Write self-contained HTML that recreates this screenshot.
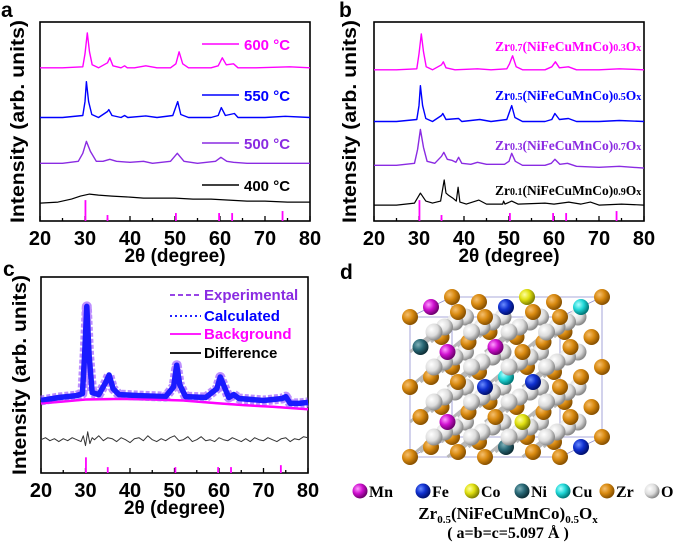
<!DOCTYPE html>
<html><head><meta charset="utf-8"><style>
body{margin:0;background:#fff}
svg{display:block;font-family:"Liberation Sans",Arial,sans-serif}
.tl{font-size:20px;font-weight:bold}
.ti{font-size:19px;font-weight:bold}
.lg{font-size:15px;font-weight:bold}
.sf{font-family:"Liberation Serif",serif;font-weight:bold}
</style></head><body>
<svg id="fig" width="675" height="546" viewBox="0 0 675 546" xmlns="http://www.w3.org/2000/svg">
<defs>
<radialGradient id="gZr" cx="35%" cy="35%" r="65%"><stop offset="0" stop-color="#f5c070"/><stop offset=".5" stop-color="#d98a10"/><stop offset="1" stop-color="#8a5200"/></radialGradient>
<radialGradient id="gO" cx="35%" cy="35%" r="65%"><stop offset="0" stop-color="#ffffff"/><stop offset=".6" stop-color="#dcdcdc"/><stop offset="1" stop-color="#8a8a8a"/></radialGradient>
<radialGradient id="gMn" cx="35%" cy="35%" r="65%"><stop offset="0" stop-color="#ff9cff"/><stop offset=".5" stop-color="#d010d0"/><stop offset="1" stop-color="#700070"/></radialGradient>
<radialGradient id="gFe" cx="35%" cy="35%" r="65%"><stop offset="0" stop-color="#6a8cff"/><stop offset=".5" stop-color="#1030d0"/><stop offset="1" stop-color="#001070"/></radialGradient>
<radialGradient id="gCo" cx="35%" cy="35%" r="65%"><stop offset="0" stop-color="#ffffa0"/><stop offset=".5" stop-color="#e0e010"/><stop offset="1" stop-color="#808000"/></radialGradient>
<radialGradient id="gNi" cx="35%" cy="35%" r="65%"><stop offset="0" stop-color="#7fb0b8"/><stop offset=".5" stop-color="#2a6a78"/><stop offset="1" stop-color="#0e3038"/></radialGradient>
<radialGradient id="gCu" cx="35%" cy="35%" r="65%"><stop offset="0" stop-color="#b0ffff"/><stop offset=".5" stop-color="#20d8d8"/><stop offset="1" stop-color="#007878"/></radialGradient>
</defs>
<g id="root"></g>
</svg>
<script>
// ---------- DATA ----------
const xTicks = [20,30,40,50,60,70,80];
const refPos = [30.1,35,50.2,59.8,62.7,73.9];
const refHa = [10.5,3,4,4,4,5];
const refHc = [8,3,3,3,3,4];

const a600x=[20,25,29.5,30,30.5,31,31.6,33,35,35.5,36.2,38,38.8,39.4,41,43.5,46,49,50.2,50.9,51.7,53,58,59.6,60.5,61.4,63,64,68,75.5,80];
const a600y=[77,77,77.5,84,94.5,85,78.5,77,79.5,82,78,77,78,77,77,78,77,77,79,85,79,77,77,78,82,78.5,79,77,77,77.5,77];
const a550x=[20,25,29.5,30,30.3,30.8,31.5,33,35,35.3,36,38,38.8,39.5,43.5,46,49.5,50.6,51.3,53,58,59.6,60.3,61.2,63.2,64,70,74.5,80];
const a550y=[52,52,53,60,70,60,53.5,52,55,56,53,52,53,52,52.8,52,53,60,53.5,52,52,53,57,53,54,52,52,52.6,52];
const a500x=[20,25,28.5,29.5,30.3,31.2,32.5,34,35.5,37,40,43,45,49,50.5,52,55,59,60.2,61.5,63,66,70,75,80];
const a500y=[29,29,30,34,40,35,30,30,31,30,29.5,30,29,30,34,30,29,30,32,30,29.5,29,29,29,29];
const a400x=[20,24,27,29,31,33,36,40,43,47,50,54,58,62,66,70,75,80];
const a400y=[9,9.5,11,12.5,13.5,13,12.5,12,11.5,11.5,11.5,11,11,10.5,10,10,9.5,9.5];

const b07x=[20,25,29.5,30,30.5,31,31.6,33,35,35.4,36,38,43,46,49.5,50.1,50.8,51.6,53,58,59.5,60.3,61.2,63.2,65,70,74.5,80];
const b07y=[76,76,76.5,84,94,85,77.5,76,78.5,80,77,76,76.5,76,76.5,79,83,77.5,76,76,77.5,80,77,77.5,76,76,76.5,76];
const b05x=[20,25,29.5,30,30.3,30.8,31.5,33,35,35.3,36,38.8,39.5,43.5,46,49.5,50.6,51.3,53,58,59.5,60.2,61.2,63.2,65,70,74.5,80];
const b05y=[50,50,51,58,68,58,51.5,50,53,54,51,51.5,50,51,50,51,58,52,50,50,51,54,51,51.5,50,50,50.5,50];
const b03x=[20,25,29,29.7,30.3,31,31.8,33.5,35,35.5,36.3,37.3,38.2,38.8,39.5,41.5,43,45,49,50,50.6,51.4,53,58,59.4,60.2,61.3,63,65,70,74.5,80];
const b03y=[28,28,29,36,46,37,30,29,32.5,34.5,31,30.5,29.5,32,29,28.5,29.5,28.5,28.5,30,34,30,28,28,29,31,28.5,29,27.5,27,27.5,26.6];
const b01x=[20,25,29,30.3,31.5,33,34.8,35.6,36,36.5,37.5,38.3,38.7,39.1,40.5,43.3,45,48.6,48.8,49.1,50.6,52,58,60,63.3,66,68.1,70,75,80];
const b01y=[8,8,9,14,10,9,10,20.6,14,13,11.5,10,17,9.5,8.5,10.5,8.5,8.5,10,8.5,10,8.5,9,8.5,9.5,8.5,9.5,8,8.5,8];

const cCalcx=[20,24,28,29.3,29.8,30.3,30.8,31.5,33,34.5,35.3,36.2,37.5,42,48,49.8,50.5,51.2,52.5,57,59.5,60.3,61.2,62.2,63.3,64.5,70,74.2,75,76,78,80];
const cCalcy=[37,38.5,39.5,40.5,60,85,60,41,40,46,50,43,40,39.5,39,44,55,45,39,38.5,43,49,44,38.5,40,38,37,38,39,35.5,35.5,36];
const cBgx=[20,25,30,38,45,52,60,66,72,80];
const cBgy=[35.5,36.5,37.5,37.8,37.5,37,35.5,34.6,33.8,32.5];
const cDifx=[20,21,22,23,24,25,26,27,28,29,29.5,30,30.5,31,31.5,32,33,34,35,36,37,38,39,40,41,42,43,44,45,46,47,48,49,50,51,52,53,54,55,56,57,58,59,60,61,62,63,64,65,66,67,68,69,70,71,72,73,74,75,76,77,78,79,80];
const cDify=[17,18,16.5,17.5,16,17.5,16.5,18,17,16,19,14,21,15,18,17,19,16.5,18,17.5,16,18,17,15.5,17.5,18,16.5,19,17,16,17.5,16.5,18,19,16.5,17,18.5,16,17,18.5,16.5,17,16,18,17,16.5,18,17,16,17.5,16,18,17,16.5,18,17,16,17.5,18,16,17.5,17,18.5,18];

const aLegend=["600 °C","550 °C","500 °C","400 °C"];
const cLegend=["Experimental","Calculated","Background","Difference"];
const dLegend=["Mn","Fe","Co","Ni","Cu","Zr","O"];

// ---------- DRAWING ----------
const NS="http://www.w3.org/2000/svg";
const root=document.getElementById('root');
function el(tag,attrs,parent,text){const e=document.createElementNS(NS,tag);for(const k in attrs)e.setAttribute(k,attrs[k]);if(text!==undefined)e.textContent=text;(parent||root).appendChild(e);return e;}

function panel(id,L,R,T,B,titleX,refH){
  const g=el('g',{});
  
  
  const sx=v=>L+(v-20)/60*(R-L);
  const sy=v=>B-v/100*(B-T);
  const frame=el('rect',{x:L,y:T,width:R-L,height:B-T,fill:'none',stroke:'#000','stroke-width':1.6},g);
  
  
  for(let v=20;v<=80;v+=5){
    const major=v%10===0;
    const t=el('line',{x1:sx(v),x2:sx(v),y1:B,y2:B-(major?5:3),stroke:'#000','stroke-width':1.3},g);
    
    
  }
  xTicks.forEach(v=>{
    const t=el('text',{x:sx(v),y:B+24,'text-anchor':'middle',class:'tl'},g,String(v));
    
    
  });
  const xt=el('text',{x:(L+R)/2,y:B+41,'text-anchor':'middle',class:'ti'},g,'2θ (degree)');
  
  
  const yt=el('text',{x:0,y:0,'text-anchor':'middle',class:'ti',transform:`translate(${titleX},${(T+B)/2}) rotate(-90)`,textLength:B-T+4,lengthAdjust:'spacingAndGlyphs'},g,'Intensity (arb. units)');
  
  
  refPos.forEach((p,i)=>{
    const r=el('line',{x1:sx(p),x2:sx(p),y1:B,y2:sy(refH[i]),stroke:'#ff00ff','stroke-width':1.8},g);
    
    
  });
  return {g,sx,sy};
}
function curve(P,xs,ys,color,w,name,extra){
  const d=xs.map((x,i)=>(i?'L':'M')+P.sx(x).toFixed(1)+','+P.sy(ys[i]).toFixed(1)).join('');
  const a={d:d,fill:'none',stroke:color,'stroke-width':w,'stroke-linejoin':'round'};
  if(extra)Object.assign(a,extra);
  const p=el('path',a,P.g);
  
  
  return p;
}

// Panel a
const A=panel('a',40,310,22,221,24,refHa);
curve(A,a600x,a600y,'#ff00ff',1.4,'series-600c');
curve(A,a550x,a550y,'#0000ff',1.4,'series-550c');
curve(A,a500x,a500y,'#8a2be2',1.4,'series-500c');
curve(A,a400x,a400y,'#000',1.2,'series-400c');
const aCols=['#ff00ff','#0000ff','#8a2be2','#000'];const aY=[44,95,143,185];
aLegend.forEach((t,i)=>{
  const l=el('line',{x1:202,x2:239,y1:aY[i],y2:aY[i],stroke:aCols[i],'stroke-width':1.6},A.g);
  
  
  const tx=el('text',{x:244,y:aY[i]+6,class:'lg',fill:aCols[i]},A.g,t);
  
  
});

// Panel b
const Bp=panel('b',374,644,22,221,356,refHa);
curve(Bp,b07x,b07y,'#ff00ff',1.4,'series-zr07');
curve(Bp,b05x,b05y,'#0000ff',1.4,'series-zr05');
curve(Bp,b03x,b03y,'#8a2be2',1.4,'series-zr03');
curve(Bp,b01x,b01y,'#000',1.2,'series-zr01');
const bLab=[['0.7','0.3'],['0.5','0.5'],['0.3','0.7'],['0.1','0.9']];const bY=[51,100,150,195];
bLab.forEach((s,i)=>{
  const t=el('text',{x:495,y:bY[i],class:'sf','font-size':'13.5px',fill:aCols[i]},Bp.g);
  
  
  t.innerHTML=`Zr<tspan font-size="10">${s[0]}</tspan>(NiFeCuMnCo)<tspan font-size="10">${s[1]}</tspan>O<tspan font-size="10">x</tspan>`;
});

// Panel c
const C=panel('c',41,308,277,473,26,refHc);
curve(C,cBgx,cBgy,'#ff00ff',2.5,'background-curve');
curve(C,cCalcx,cCalcy,'#a060ff',10,'experimental-data',{'stroke-dasharray':'4 2','opacity':'0.7'});
curve(C,cCalcx,cCalcy,'#1a1aff',5.5,'calculated-curve');
curve(C,cBgx,cBgy,'#ff00ff',2,'background-curve-top',{opacity:'0.8'});
curve(C,cDifx,cDify,'#333',1,'difference-curve');
const cCols=['#8a2be2','#0000ff','#ff00ff','#000'];const cY=[295,316,334,353];
const cDash=['5 3','2 3','',''];
cLegend.forEach((t,i)=>{
  const a={x1:170,x2:201,y1:cY[i],y2:cY[i],stroke:cCols[i],'stroke-width':1.8};
  if(cDash[i])a['stroke-dasharray']=cDash[i];
  const l=el('line',a,C.g);
  
  
  const tx=el('text',{x:204,y:cY[i]+5,class:'lg','font-size':'13.5px',fill:cCols[i]},C.g,t);
  
  
});

// Panel letters
[['a',1,17],['b',339,17],['c',3,276],['d',340,279]].forEach(p=>{
  const t=el('text',{x:p[1],y:p[2],'font-size':'21px','font-weight':'bold'},root,p[0]);
  
  
});

// Panel d: crystal structure
const D=el('g',{});


const px=(X,Y,Z)=>410+X*75+Z*21;
const py=(X,Y,Z)=>457-Y*70-Z*10;
[[0,0,0],[2,0,0],[0,2,0],[2,2,0]].forEach(([X,Y])=>{
  const l=el('line',{x1:px(X,Y,0),y1:py(X,Y,0),x2:px(X,Y,2),y2:py(X,Y,2),stroke:'#9090d0','stroke-width':.8},D);
  
});
[0,2].forEach(Z=>{
  const pts=[[0,0],[2,0],[2,2],[0,2]].map(([X,Y])=>px(X,Y,Z)+','+py(X,Y,Z)).join(' ');
  const p=el('polygon',{points:pts,fill:'none',stroke:'#9090d0','stroke-width':.8},D);
  
});
const atoms=[];
for(let i=0;i<=4;i++)for(let j=0;j<=4;j++)for(let k=0;k<=4;k++){
  if((i+j+k)%2===0)atoms.push({X:i/2,Y:j/2,Z:k/2,t:'Zr'});
}
for(let i=0;i<4;i++)for(let j=0;j<4;j++)for(let k=0;k<4;k++)atoms.push({X:i/2+.25,Y:j/2+.25,Z:k/2+.25,t:'O'});
const special={'0,2,1':'Mn','0.5,1.5,0':'Mn','0.5,0.5,0':'Mn','1,1.5,0.5':'Mn','2,0,1':'Fe','1,2,1':'Fe','1.5,1,0.5':'Fe','1,1,0':'Fe','1,2,2':'Co','1.5,1.5,0.5':'Co','1.5,0.5,0':'Co','0,1.5,0.5':'Ni','0.5,0,0':'Ni','1,0,1':'Ni','2,2,1':'Cu','1,1.5,1':'Cu','2,1.5,0':'Cu','1,1,1':'Cu'};
atoms.forEach(a=>{const k=a.X+','+a.Y+','+a.Z;if(special[k])a.t=special[k];});
atoms.sort((a,b)=>(b.Z-a.Z)||(a.Y-b.Y));
atoms.filter(a=>a.t==='O').forEach(o=>{
  const b=el('line',{x1:px(o.X,o.Y,o.Z),y1:py(o.X,o.Y,o.Z),x2:px(o.X-.25,o.Y-.25,o.Z-.25),y2:py(o.X-.25,o.Y-.25,o.Z-.25),stroke:'#b8b8b8','stroke-width':3},D);
  
});
atoms.forEach(a=>{
  const c=el('circle',{cx:px(a.X,a.Y,a.Z),cy:py(a.X,a.Y,a.Z),r:a.t==='O'?8.5:8,fill:'url(#g'+a.t+')'},D);
  
  
});
// legend d
const dX=[360,423,472,522,563,607,652];
dLegend.forEach((t,i)=>{
  const c=el('circle',{cx:dX[i],cy:491,r:7.5,fill:'url(#g'+t+')'},root);
  
  
  const tx=el('text',{x:dX[i]+9,y:497,class:'sf','font-size':'16px'},root,t);
  
  
});
const f=el('text',{x:508,y:519,'text-anchor':'middle',class:'sf','font-size':'17px'},root);


f.innerHTML='Zr<tspan font-size="11" dy="4">0.5</tspan><tspan dy="-4">(NiFeCuMnCo)</tspan><tspan font-size="11" dy="4">0.5</tspan><tspan dy="-4">O</tspan><tspan font-size="11" dy="4">x</tspan>';
const lp=el('text',{x:508,y:538,'text-anchor':'middle',class:'sf','font-size':'16px'},root,'( a=b=c=5.097 Å )');


</script>
</body></html>
